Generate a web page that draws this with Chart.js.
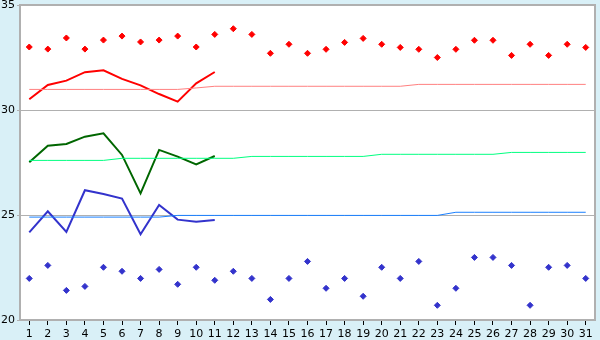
<!DOCTYPE html>
<html>
<head>
<meta charset="utf-8">
<script src="https://cdn.jsdelivr.net/npm/chart.js@4"></script>
<style>
    html, body { margin: 0; padding: 0; background: #d9f0f7; }
    #wrap { width: 600px; height: 340px; }
</style>
</head>
<body>
<div id="wrap"><canvas id="chart"></canvas></div>
<script>
const days = ["1","2","3","4","5","6","7","8","9","10","11","12","13","14","15","16","17","18","19","20","21","22","23","24","25","26","27","28","29","30","31"];
const yTicks = [20, 25, 30, 35];

const redPoints = [33.0, 32.9, 33.43, 32.9, 33.33, 33.52, 33.24, 33.33, 33.52, 33.0, 33.6, 33.87, 33.6, 32.7, 33.13, 32.7, 32.89, 33.22, 33.41, 33.13, 32.98, 32.89, 32.5, 32.89, 33.32, 33.32, 32.6, 33.13, 32.6, 33.13, 32.98];
const redLine = [30.51, 31.19, 31.4, 31.8, 31.89, 31.48, 31.17, 30.76, 30.4, 31.27, 31.81];
const redAvg = [30.98, 30.98, 30.98, 30.98, 30.98, 30.98, 30.98, 30.98, 30.98, 31.05, 31.13, 31.13, 31.13, 31.13, 31.13, 31.13, 31.13, 31.13, 31.13, 31.13, 31.13, 31.22, 31.22, 31.22, 31.22, 31.22, 31.22, 31.22, 31.22, 31.22, 31.22];

const greenLine = [27.51, 28.3, 28.38, 28.73, 28.89, 27.86, 26.03, 28.1, 27.78, 27.41, 27.81];
const greenAvg = [27.6, 27.6, 27.6, 27.6, 27.6, 27.7, 27.7, 27.7, 27.7, 27.7, 27.7, 27.7, 27.79, 27.79, 27.79, 27.79, 27.79, 27.79, 27.79, 27.89, 27.89, 27.89, 27.89, 27.89, 27.89, 27.89, 27.98, 27.98, 27.98, 27.98, 27.98];

const blueLine = [24.17, 25.18, 24.19, 26.18, 26.0, 25.78, 24.08, 25.48, 24.78, 24.68, 24.76];
const blueAvg = [24.9, 24.9, 24.9, 24.9, 24.9, 24.9, 24.9, 24.9, 24.98, 24.98, 24.98, 24.98, 24.98, 24.98, 24.98, 24.98, 24.98, 24.98, 24.98, 24.98, 24.98, 24.98, 24.98, 25.13, 25.13, 25.13, 25.13, 25.13, 25.13, 25.13, 25.13];
const bluePoints = [21.98, 22.6, 21.41, 21.6, 22.51, 22.32, 21.98, 22.41, 21.7, 22.51, 21.89, 22.32, 21.98, 20.98, 21.98, 22.79, 21.51, 21.98, 21.13, 22.51, 21.98, 22.79, 20.7, 21.51, 22.98, 22.98, 22.6, 20.7, 22.51, 22.6, 21.98];

const plotFrame = {
    id: "plotFrame",
    beforeDraw(chart) {
        let ctx = chart.ctx;
        let a = chart.chartArea;
        ctx.save();
        ctx.fillStyle = "#d9f0f7";
        ctx.fillRect(0, 0, chart.width, chart.height);
        ctx.fillStyle = "#ffffff";
        ctx.fillRect(a.left, a.top, a.right - a.left, a.bottom - a.top);
        ctx.restore();
    },
    afterDatasetsDraw(chart) {
        let ctx = chart.ctx;
        let a = chart.chartArea;
        ctx.save();
        ctx.strokeStyle = "#b0b0b0";
        ctx.lineWidth = 2;
        ctx.beginPath();
        ctx.moveTo(a.left, a.top);
        ctx.lineTo(a.right, a.top);
        ctx.lineTo(a.right, a.bottom);
        ctx.stroke();
        ctx.restore();
    }
};

function lineSet(data, color, width) {
    return {
        data: data,
        borderColor: color,
        borderWidth: width,
        pointRadius: 0,
        tension: 0,
        fill: false,
        spanGaps: false
    };
}

function pointSet(data, color) {
    return {
        data: data,
        showLine: false,
        pointStyle: "rectRot",
        pointRadius: 3,
        pointBackgroundColor: color,
        pointBorderColor: color,
        pointBorderWidth: 1
    };
}

let ctx = document.getElementById("chart").getContext("2d");

new Chart(ctx, {
    type: "line",
    data: {
        labels: days,
        datasets: [
            lineSet(redAvg, "#ff8080", 1),
            lineSet(greenAvg, "#00ff80", 1),
            lineSet(blueAvg, "#1a80ff", 1),
            lineSet(redLine, "#ff0000", 2),
            lineSet(greenLine, "#006600", 2),
            lineSet(blueLine, "#3333cc", 2),
            pointSet(redPoints, "#ff0000"),
            pointSet(bluePoints, "#3333cc")
        ]
    },
    options: {
        responsive: true,
        maintainAspectRatio: false,
        animation: false,
        layout: {
            padding: { top: 5, right: 5, left: 0, bottom: 0 }
        },
        plugins: {
            legend: { display: false },
            tooltip: { enabled: false }
        },
        scales: {
            x: {
                offset: true,
                afterFit: (s) => { s.height = 20; s.paddingLeft = 0; s.paddingRight = 0; },
                border: { color: "#b0b0b0", width: 2 },
                grid: {
                    drawOnChartArea: false,
                    drawTicks: true,
                    tickLength: 5,
                    color: "#000000",
                    offset: false
                },
                ticks: {
                    color: "#000000",
                    padding: 3,
                    maxRotation: 0,
                    autoSkip: false,
                    font: { family: "DejaVu Sans", size: 11 }
                }
            },
            y: {
                min: 20,
                max: 35,
                afterFit: (s) => { s.width = 20; s.paddingTop = 0; s.paddingBottom = 0; },
                afterBuildTicks: (s) => { s.ticks = yTicks.map((v) => ({ value: v })); },
                border: { color: "#b0b0b0", width: 2 },
                grid: {
                    color: "#b0b0b0",
                    lineWidth: 1,
                    drawTicks: true,
                    tickLength: 3
                },
                ticks: {
                    color: "#000000",
                    padding: 2,
                    font: { family: "DejaVu Sans", size: 11 }
                }
            }
        }
    },
    plugins: [plotFrame]
});
</script>
</body>
</html>
